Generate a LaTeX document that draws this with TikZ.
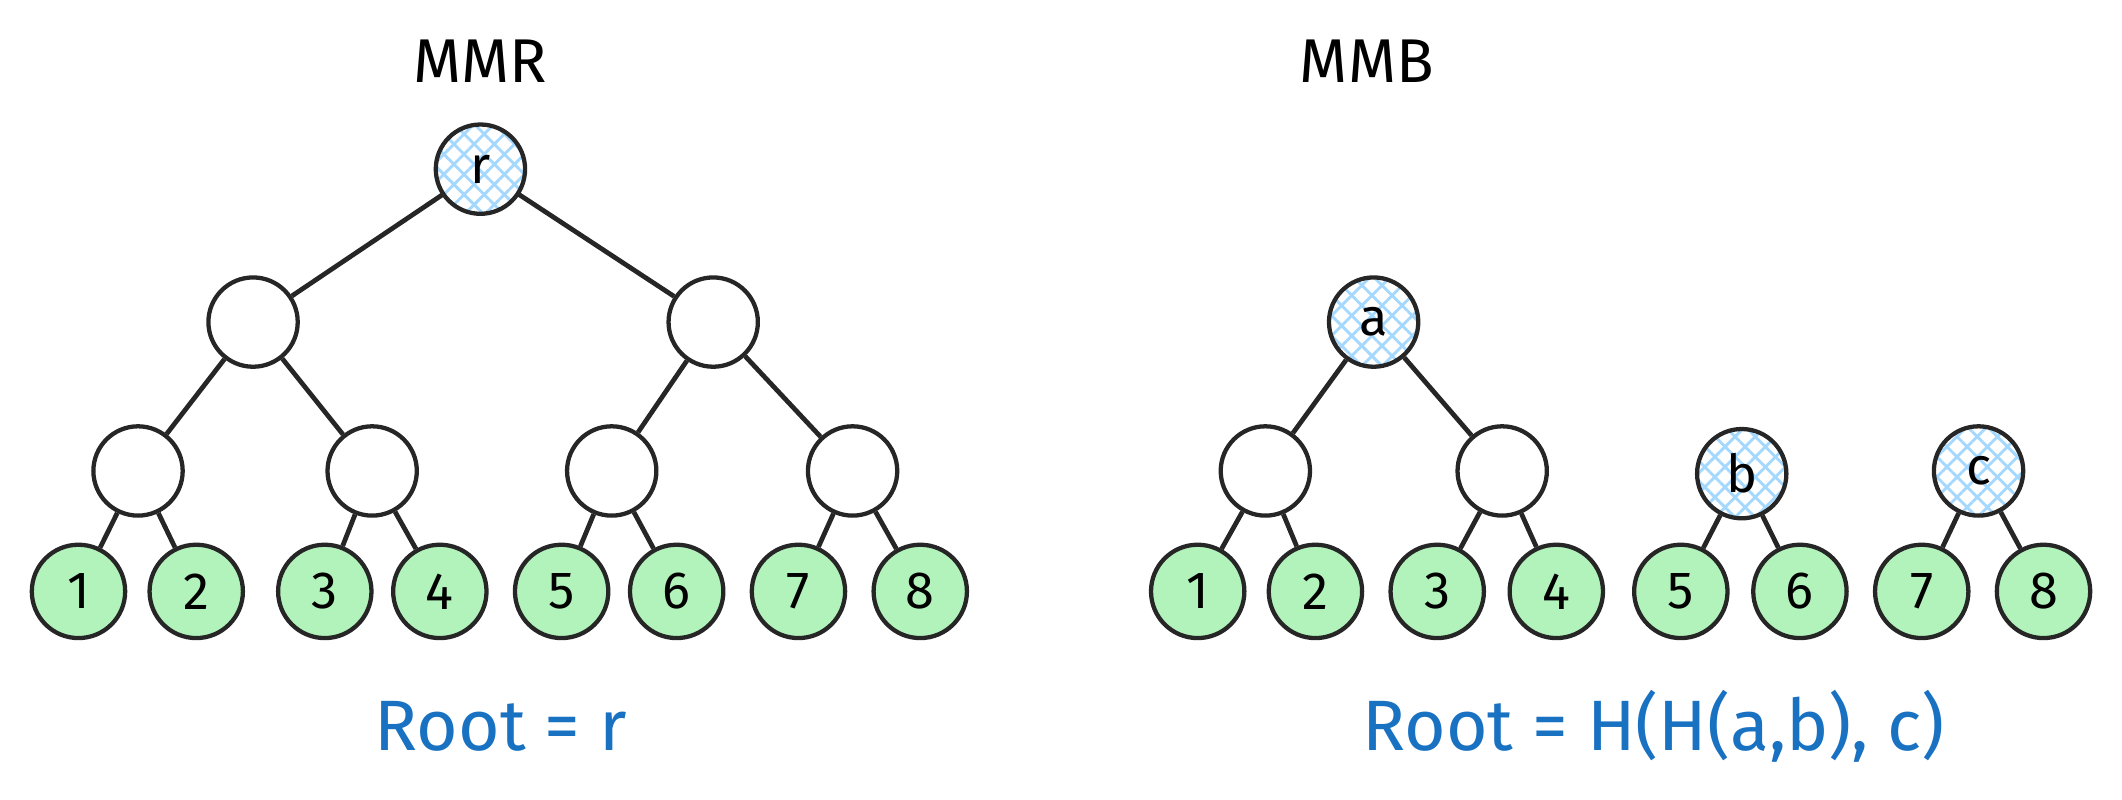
\documentclass[tikz,border=0pt]{standalone}
\usepackage{fontspec}
\setmainfont{Fira Sans}
\usetikzlibrary{patterns.meta}
\definecolor{leafg}{HTML}{B2F2BB}
\definecolor{hblue}{HTML}{A5D8FF}
\definecolor{tblue}{HTML}{1971C2}
\begin{document}
\begin{tikzpicture}[x=0.02cm,y=-0.02cm,
 nd/.style={circle,draw=black!85,line width=1.8pt,minimum size=1.32cm,inner sep=0pt,font=\fontsize{22}{22}\selectfont},
 leaf/.style={nd,fill=leafg,minimum size=1.38cm},
 hn/.style={nd,preaction={pattern={Lines[angle=45,distance=6pt,line width=1.2pt]},pattern color=hblue},
   pattern={Lines[angle=-45,distance=6pt,line width=1.2pt]},pattern color=hblue},
 ed/.style={draw=black!85,line width=2pt},
 ttl/.style={font=\fontsize{26}{26}\selectfont},
 rt/.style={font=\fontsize{30}{30}\selectfont,text=tblue}]
\useasboundingbox (0,0) rectangle (1568,591);
% MMR
\node[ttl] (t1) at (355,45) {MMR};
\node[hn] (r) at (355,125) {r};
\node[nd] (l1) at (187,238) {};
\node[nd] (l2) at (527,238) {};
\node[nd] (m1) at (102,348) {};
\node[nd] (m2) at (275,348) {};
\node[nd] (m3) at (452,348) {};
\node[nd] (m4) at (630,348) {};
\foreach \i/\x in {1/58,2/145,3/240,4/325,5/415,6/500,7/590,8/680}
  \node[leaf] (a\i) at (\x,437) {\i};
\draw[ed] (r)--(l1); \draw[ed] (r)--(l2);
\draw[ed] (l1)--(m1); \draw[ed] (l1)--(m2);
\draw[ed] (l2)--(m3); \draw[ed] (l2)--(m4);
\draw[ed] (m1)--(a1); \draw[ed] (m1)--(a2);
\draw[ed] (m2)--(a3); \draw[ed] (m2)--(a4);
\draw[ed] (m3)--(a5); \draw[ed] (m3)--(a6);
\draw[ed] (m4)--(a7); \draw[ed] (m4)--(a8);
\node[rt] (rt1) at (370,537) {Root = r};
% MMB
\node[ttl] (t2) at (1010,45) {MMB};
\node[hn] (na) at (1015,238) {a};
\node[nd] (n1) at (935,348) {};
\node[nd] (n2) at (1110,348) {};
\node[hn] (nb) at (1287,350) {b};
\node[hn] (nc) at (1462,348) {c};
\foreach \i/\x in {1/885,2/972,3/1062,4/1150,5/1242,6/1330,7/1420,8/1510}
  \node[leaf] (b\i) at (\x,437) {\i};
\draw[ed] (na)--(n1); \draw[ed] (na)--(n2);
\draw[ed] (n1)--(b1); \draw[ed] (n1)--(b2);
\draw[ed] (n2)--(b3); \draw[ed] (n2)--(b4);
\draw[ed] (nb)--(b5); \draw[ed] (nb)--(b6);
\draw[ed] (nc)--(b7); \draw[ed] (nc)--(b8);
\node[rt] (rt2) at (1222,537) {Root = H(H(a,b), c)};
\end{tikzpicture}
\end{document}
